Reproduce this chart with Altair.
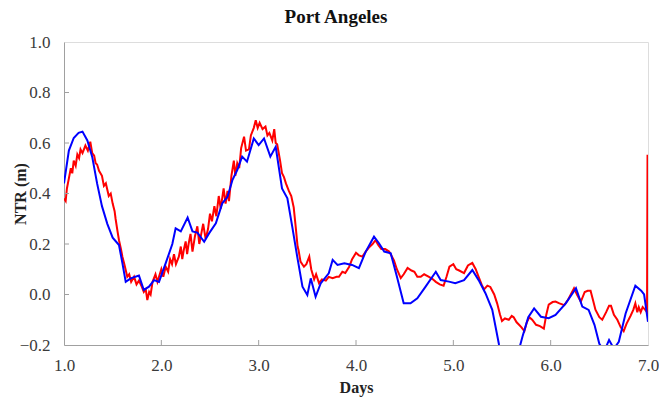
import altair as alt
import pandas as pd

# Model (blue) series
blue_days = [1.00,1.05,1.10,1.15,1.19,1.24,1.29,1.34,1.39,1.445,1.50,1.565,1.60,1.634,1.685,1.77,1.82,1.873,1.925,1.976,
             2.045,2.113,2.147,2.20,2.27,2.32,2.37,2.44,2.49,2.56,2.626,2.68,2.73,2.78,2.83,2.88,2.95,3.00,3.055,3.12,
             3.175,3.24,3.295,3.345,3.396,3.45,3.50,3.535,3.585,3.637,3.72,3.76,3.81,3.88,3.96,4.03,4.10,4.185,4.236,4.29,
             4.357,4.42,4.49,4.56,4.63,4.715,4.82,4.87,4.955,5.02,5.11,5.195,5.26,5.33,5.40,5.47,5.53,5.60,5.66,5.71,
             5.77,5.83,5.90,5.98,6.05,6.155,6.26,6.325,6.39,6.45,6.50,6.55,6.60,6.65,6.70,6.77,6.87,6.93,6.96,7.00]
blue_ntr = [0.44,0.57,0.62,0.64,0.645,0.61,0.545,0.44,0.35,0.28,0.225,0.196,0.124,0.05,0.064,0.075,0.018,0.031,0.057,0.05,
            0.124,0.20,0.262,0.25,0.305,0.25,0.245,0.209,0.242,0.282,0.361,0.387,0.453,0.493,0.546,0.526,0.618,0.592,0.618,0.546,
            0.585,0.42,0.381,0.269,0.15,0.031,-0.002,0.064,-0.009,0.044,0.084,0.137,0.117,0.124,0.117,0.104,0.17,0.229,0.203,0.17,
            0.163,0.071,-0.035,-0.035,-0.015,0.031,0.09,0.057,0.051,0.045,0.057,0.097,0.057,0.005,-0.061,-0.20,-0.27,-0.29,-0.24,-0.167,
            -0.09,-0.055,-0.088,-0.094,-0.081,-0.035,0.025,-0.048,-0.061,-0.12,-0.195,-0.225,-0.18,-0.215,-0.187,-0.075,0.035,0.015,0.0,-0.108]

# Observed (red) series
red_days = [1.00,1.017,1.03,1.05,1.07,1.085,1.10,1.12,1.137,1.155,1.17,1.19,1.22,1.245,1.27,1.29,1.31,1.325,1.34,1.36,
            1.39,1.41,1.43,1.46,1.48,1.50,1.52,1.53,1.55,1.565,1.585,1.60,1.62,1.634,1.65,1.67,1.69,1.72,1.745,1.77,
            1.80,1.82,1.84,1.856,1.875,1.89,1.91,1.94,1.96,1.976,2.00,2.02,2.045,2.07,2.09,2.11,2.13,2.15,2.18,2.20,
            2.215,2.23,2.25,2.265,2.28,2.30,2.32,2.345,2.37,2.39,2.41,2.43,2.455,2.48,2.50,2.52,2.545,2.565,2.59,2.61,
            2.64,2.66,2.68,2.695,2.72,2.745,2.76,2.78,2.80,2.82,2.85,2.87,2.90,2.92,2.95,2.97,2.99,3.01,3.04,3.07,
            3.09,3.11,3.14,3.16,3.175,3.19,3.22,3.24,3.26,3.28,3.30,3.31,3.335,3.36,3.38,3.40,3.41,3.43,3.465,3.49,
            3.52,3.54,3.57,3.59,3.62,3.65,3.69,3.72,3.76,3.80,3.825,3.86,3.89,3.93,3.96,4.00,4.03,4.065,4.10,4.13,
            4.17,4.20,4.23,4.26,4.30,4.34,4.37,4.39,4.42,4.46,4.49,4.53,4.57,4.60,4.63,4.665,4.70,4.75,4.79,4.82,
            4.86,4.90,4.93,4.96,5.00,5.03,5.06,5.11,5.15,5.195,5.23,5.26,5.29,5.315,5.35,5.38,5.42,5.45,5.48,5.50,
            5.53,5.57,5.60,5.62,5.65,5.675,5.70,5.73,5.755,5.78,5.81,5.85,5.89,5.93,5.955,5.98,6.02,6.05,6.09,6.14,
            6.18,6.24,6.27,6.31,6.35,6.38,6.41,6.44,6.46,6.50,6.53,6.57,6.60,6.62,6.65,6.685,6.72,6.75,6.78,6.82,
            6.85,6.87,6.89,6.905,6.925,6.945,6.97,6.99,6.995,7.00]
red_ntr = [0.38,0.37,0.42,0.46,0.50,0.48,0.53,0.51,0.555,0.54,0.575,0.56,0.59,0.57,0.605,0.56,0.55,0.52,0.515,0.49,
           0.47,0.43,0.44,0.39,0.40,0.36,0.33,0.30,0.25,0.215,0.18,0.15,0.12,0.097,0.07,0.08,0.05,0.07,0.04,0.055,
           0.03,0.01,0.02,-0.022,0.01,0.0,0.05,0.08,0.05,0.07,0.10,0.07,0.11,0.09,0.14,0.12,0.16,0.12,0.15,0.19,
           0.14,0.175,0.21,0.16,0.20,0.24,0.17,0.23,0.27,0.20,0.24,0.28,0.22,0.26,0.32,0.29,0.35,0.31,0.39,0.34,
           0.42,0.36,0.41,0.37,0.47,0.53,0.47,0.52,0.50,0.58,0.625,0.57,0.575,0.63,0.66,0.69,0.66,0.68,0.655,0.665,
           0.63,0.64,0.61,0.655,0.60,0.595,0.53,0.48,0.465,0.44,0.42,0.41,0.39,0.345,0.27,0.19,0.175,0.13,0.11,0.12,
           0.15,0.10,0.06,0.08,0.045,0.06,0.055,0.07,0.065,0.07,0.07,0.09,0.085,0.11,0.14,0.165,0.155,0.15,0.17,0.185,
           0.20,0.215,0.195,0.18,0.18,0.17,0.15,0.135,0.10,0.065,0.08,0.105,0.095,0.09,0.07,0.07,0.08,0.07,0.06,0.05,
           0.04,0.035,0.07,0.11,0.12,0.10,0.095,0.085,0.115,0.125,0.10,0.07,0.04,0.02,0.035,0.03,0.0,-0.035,-0.08,-0.105,
           -0.095,-0.10,-0.085,-0.09,-0.11,-0.12,-0.13,-0.145,-0.11,-0.09,-0.10,-0.12,-0.125,-0.135,-0.08,-0.04,-0.03,-0.028,-0.035,-0.042,
           -0.02,0.025,0.0,-0.028,0.01,0.015,0.015,-0.03,-0.06,-0.09,-0.10,-0.07,-0.045,-0.045,-0.08,-0.10,-0.13,-0.145,-0.115,-0.085,
           -0.06,-0.035,-0.07,-0.05,-0.07,-0.05,-0.06,-0.07,0.55,0.55]

x_ticks = [1.0, 2.0, 3.0, 4.0, 5.0, 6.0, 7.0]
y_ticks = [-0.2, 0.0, 0.2, 0.4, 0.6, 0.8, 1.0]

FONT = "Liberation Serif"
GRAY = "#a0a0a0"
LABEL = "#3a3a3a"

xscale = alt.Scale(domain=[1.0, 7.0], nice=False, zero=False)
yscale = alt.Scale(domain=[-0.2, 1.0], nice=False, zero=False)

xaxis = alt.Axis(values=x_ticks, format=".1f", title="Days", labelPadding=12, titlePadding=6,
                 labelFlush=False, labelOverlap=False)
yaxis = alt.Axis(values=y_ticks, format=".1f", title="NTR (m)", labelPadding=14,
                 labelFlush=False, labelOverlap=False,
                 titleX=-44, titleY=151.5, titleAlign="center", titleBaseline="middle", titleAngle=270)

red_df = pd.DataFrame({"day": red_days, "ntr": red_ntr})
blue_df = pd.DataFrame({"day": blue_days, "ntr": blue_ntr})

red = alt.Chart(red_df).mark_line(color="#ff0000", strokeWidth=2, clip=True).encode(
    x=alt.X("day:Q", scale=xscale, axis=xaxis),
    y=alt.Y("ntr:Q", scale=yscale, axis=yaxis),
)
blue = alt.Chart(blue_df).mark_line(color="#0000ff", strokeWidth=2, clip=True).encode(
    x=alt.X("day:Q", scale=xscale, axis=xaxis),
    y=alt.Y("ntr:Q", scale=yscale, axis=yaxis),
)

ytick = alt.Chart(pd.DataFrame({"v": y_ticks[1:-1]})).mark_rule(color=GRAY, strokeWidth=1).encode(
    y=alt.Y("v:Q", scale=yscale, axis=yaxis), x=alt.value(0), x2=alt.value(5)
)
xtick = alt.Chart(pd.DataFrame({"d": x_ticks[1:-1]})).mark_rule(color=GRAY, strokeWidth=1).encode(
    x=alt.X("d:Q", scale=xscale, axis=xaxis), y=alt.value(303), y2=alt.value(298)
)

chart = alt.layer(red, blue, ytick, xtick).properties(
    width=584, height=303,
    title=alt.TitleParams("Port Angeles", font=FONT, fontSize=19, fontWeight="bold",
                          color="#111111", anchor="middle", offset=6, dx=-20),
    autosize=alt.AutoSizeParams(type="none"),
    padding={"left": 64, "top": 42, "right": 11, "bottom": 57},
).configure_view(stroke=GRAY, strokeWidth=1).configure(background="white").configure_axis(
    ticks=False, grid=False, domainColor=GRAY,
    labelFont=FONT, labelFontSize=17, labelColor=LABEL,
    titleFont=FONT, titleFontSize=16, titleFontWeight="bold", titleColor="#222222",
)

chart.save("out.html", embed_options={"renderer": "svg", "actions": False})
